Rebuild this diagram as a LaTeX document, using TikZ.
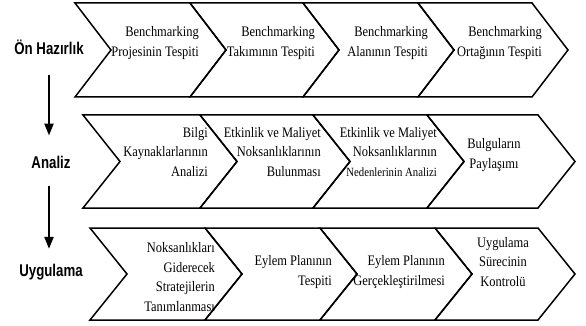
\documentclass[tikz,border=0pt]{standalone}
\usepackage{fontspec}
\setmainfont{Liberation Serif}[FakeStretch=0.86]
\newfontfamily\labelfont{Liberation Sans}[FakeStretch=0.78]
\usetikzlibrary{arrows.meta}

\tikzset{
  chev/.style={line width=1.5pt, line join=miter},
  steptext/.style={font=\fontsize{14.5}{19.5}\selectfont, inner sep=0pt},
  phase/.style={font=\labelfont\bfseries\fontsize{17}{19}\selectfont, inner sep=1pt},
  down/.style={line width=2.2pt, -{Triangle[width=9pt,length=12pt]}}
}
% chevron: left, right, top, bottom, depth
\newcommand\chevron[5]{%
  \draw[chev] (#1,#3) -- (#2,#3) -- (#2+#5,{(#3+#4)/2}) -- (#2,#4)
    -- (#1,#4) -- (#1+#5,{(#3+#4)/2}) -- cycle;}

\begin{document}
\begin{tikzpicture}[x=1pt,y=-1pt]
  \useasboundingbox (0,0) rectangle (586,326);
  % Ön Hazırlık
  \chevron{75}{190}{3}{97}{36}
  \chevron{190}{303}{3}{97}{36}
  \chevron{303}{418}{3}{97}{36}
  \chevron{418}{532}{3}{97}{36}
  % Analiz
  \chevron{83}{200}{115}{208}{37}
  \chevron{200}{313}{115}{208}{37}
  \chevron{313}{427}{115}{208}{37}
  \chevron{427}{538}{115}{208}{37}
  % Uygulama
  \chevron{90}{205}{228}{320}{37}
  \chevron{205}{320}{228}{320}{37}
  \chevron{320}{435}{228}{320}{37}
  \chevron{435}{538}{228}{320}{37}

  \node[phase] (hazirlik) at (49,47) {Ön Hazırlık};
  \node[phase] (analiz) at (51,162) {Analiz};
  \node[phase] (uygulama) at (51,272) {Uygulama};
  \draw[down, shorten <=19pt, shorten >=19pt] (hazirlik.south -| 49,0) -- (analiz.north -| 49,0);
  \draw[down, shorten <=17pt, shorten >=14pt] (analiz.south -| 49,0) -- (uygulama.north -| 49,0);

  \node[steptext, anchor=east, align=right] (proje) at (199,43) {Benchmarking\\Projesinin Tespiti};
  \node[steptext, anchor=east, align=right] (takim) at (315,43) {Benchmarking\\Takımının Tespiti};
  \node[steptext, anchor=east, align=right] (alan) at (428,43) {Benchmarking\\Alanının Tespiti};
  \node[steptext, anchor=east, align=right] (ortak) at (542,43) {Benchmarking\\Ortağının Tespiti};

  \node[steptext, anchor=east, align=right] (bilgi) at (208,152) {Bilgi\\Kaynaklarlarının\\Analizi};
  \node[steptext, anchor=east, align=right] (bulunma) at (321,152) {Etkinlik ve Maliyet\\Noksanlıklarının\\Bulunması};
  \node[steptext, anchor=east, align=right] (neden) at (437,152) {Etkinlik ve Maliyet\\Noksanlıklarının\\{\fontsize{12.5}{19.5}\selectfont Nedenlerinin Analizi}};
  \node[steptext, align=center] (paylasim) at (494,155) {Bulguların\\Paylaşımı};

  \node[steptext, anchor=east, align=right] (strateji) at (215,277) {Noksanlıkları\\Giderecek\\Stratejilerin\\Tanımlanması};
  \node[steptext, anchor=east, align=right] (tespit) at (332,272) {Eylem Planının\\Tespiti};
  \node[steptext, anchor=east, align=right] (gercek) at (445,272) {Eylem Planının\\Gerçekleştirilmesi};
  \node[steptext, align=center] (kontrol) at (503,262) {Uygulama\\Sürecinin\\Kontrolü};
\end{tikzpicture}
\end{document}
